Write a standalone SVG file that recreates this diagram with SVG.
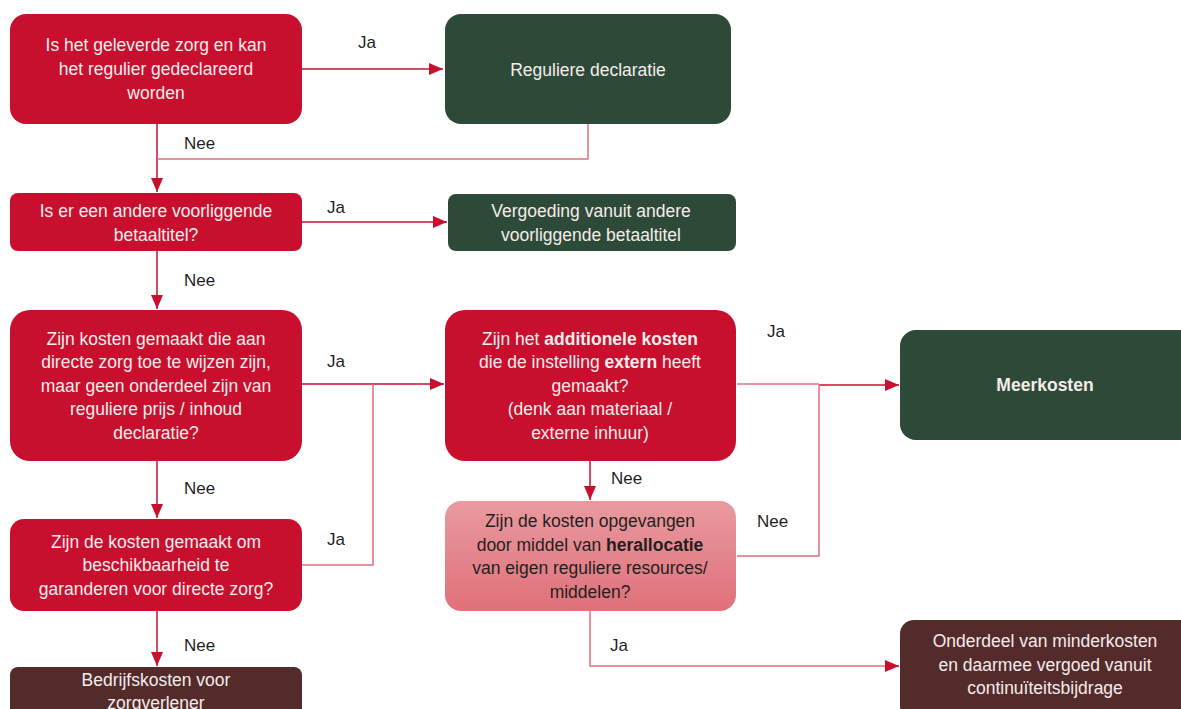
<svg xmlns="http://www.w3.org/2000/svg" width="1181" height="709" viewBox="0 0 1181 709">
<style>
.red{fill:#C8102E}
.green{fill:#2D4A38}
.brown{fill:#532B2B}
.t{font-family:"Liberation Sans",Arial,sans-serif;font-size:17.5px;fill:#F6ECEC;text-anchor:middle}
.dk{fill:#1F1F1F}
.lbl{font-family:"Liberation Sans",Arial,sans-serif;font-size:17px;fill:#1F1F1F}
.c{fill:none;stroke:#C8102E;stroke-width:1.5}
.cl{fill:none;stroke:#E0707E;stroke-width:1.5}
.b{font-weight:bold}
</style>
<defs>
<marker id="ahL" viewBox="0 0 14 12" refX="14" refY="6" markerWidth="14" markerHeight="12" markerUnits="userSpaceOnUse" orient="auto">
<path d="M0,0 L14,6 L0,12 z" fill="#C8102E"/>
</marker>
<linearGradient id="pink" x1="0" y1="0" x2="0" y2="1">
<stop offset="0" stop-color="#E99AA0"/>
<stop offset="1" stop-color="#E07079"/>
</linearGradient>
</defs>

<g id="connectors">
<path class="c" d="M302,69 H443" marker-end="url(#ahL)"/>
<path class="c" d="M157,124 V192" marker-end="url(#ahL)"/>
<path class="cl" d="M588,124 V159 H157"/>
<path class="c" d="M302,222 H447" marker-end="url(#ahL)"/>
<path class="c" d="M157,251 V309" marker-end="url(#ahL)"/>
<path class="c" d="M302,384 H444" marker-end="url(#ahL)"/>
<path class="cl" d="M302,565 H373 V384"/>
<path class="c" d="M157,461 V518" marker-end="url(#ahL)"/>
<path class="c" d="M157,611 V666" marker-end="url(#ahL)"/>
<path class="cl" d="M737,384 H819"/>
<path class="c" d="M819,385 H899" marker-end="url(#ahL)"/>
<path class="cl" d="M737,556 H819 V385"/>
<path class="c" d="M590,461 V500" marker-end="url(#ahL)"/>
<path class="cl" d="M590,611 V666 H885"/>
<path class="c" d="M885,666 H899" marker-end="url(#ahL)"/>
</g>

<g id="labels">
<text class="lbl" x="358" y="48">Ja</text>
<text class="lbl" x="184" y="149">Nee</text>
<text class="lbl" x="327" y="213">Ja</text>
<text class="lbl" x="184" y="286">Nee</text>
<text class="lbl" x="327" y="367">Ja</text>
<text class="lbl" x="184" y="494">Nee</text>
<text class="lbl" x="327" y="545">Ja</text>
<text class="lbl" x="184" y="651">Nee</text>
<text class="lbl" x="767" y="337">Ja</text>
<text class="lbl" x="611" y="484">Nee</text>
<text class="lbl" x="757" y="527">Nee</text>
<text class="lbl" x="610" y="651">Ja</text>
</g>

<g id="n1">
<rect class="red" x="10" y="14" width="292" height="110" rx="16"/>
<text class="t" x="156" y="51">Is het geleverde zorg en kan</text>
<text class="t" x="156" y="75">het regulier gedeclareerd</text>
<text class="t" x="156" y="99">worden</text>
</g>
<g id="n2">
<rect class="green" x="445" y="14" width="286" height="110" rx="16"/>
<text class="t" x="588" y="76">Reguliere declaratie</text>
</g>
<g id="n3">
<rect class="red" x="10" y="193" width="292" height="58" rx="8"/>
<text class="t" x="156" y="217">Is er een andere voorliggende</text>
<text class="t" x="156" y="241">betaaltitel?</text>
</g>
<g id="n4">
<rect class="green" x="448" y="194" width="288" height="57" rx="8"/>
<text class="t" x="591" y="217">Vergoeding vanuit andere</text>
<text class="t" x="591" y="241">voorliggende betaaltitel</text>
</g>
<g id="n5">
<rect class="red" x="10" y="310" width="292" height="151" rx="20"/>
<text class="t" x="156" y="345">Zijn kosten gemaakt die aan</text>
<text class="t" x="156" y="368">directe zorg toe te wijzen zijn,</text>
<text class="t" x="156" y="392">maar geen onderdeel zijn van</text>
<text class="t" x="156" y="415">reguliere prijs / inhoud</text>
<text class="t" x="156" y="439">declaratie?</text>
</g>
<g id="n6">
<rect class="red" x="445" y="310" width="291" height="151" rx="20"/>
<text class="t" x="590" y="345">Zijn het <tspan class="b">additionele kosten</tspan></text>
<text class="t" x="590" y="368">die de instelling <tspan class="b">extern</tspan> heeft</text>
<text class="t" x="590" y="392">gemaakt?</text>
<text class="t" x="590" y="415">(denk aan materiaal /</text>
<text class="t" x="590" y="439">externe inhuur)</text>
</g>
<g id="n7">
<rect class="green" x="900" y="330" width="300" height="110" rx="16"/>
<text class="t b" x="1045" y="391">Meerkosten</text>
</g>
<g id="n8">
<rect class="red" x="10" y="519" width="292" height="92" rx="14"/>
<text class="t" x="156" y="548">Zijn de kosten gemaakt om</text>
<text class="t" x="156" y="571">beschikbaarheid te</text>
<text class="t" x="156" y="595">garanderen voor directe zorg?</text>
</g>
<g id="n9">
<rect fill="url(#pink)" x="445" y="501" width="291" height="110" rx="16"/>
<text class="t dk" x="590" y="527">Zijn de kosten opgevangen</text>
<text class="t dk" x="590" y="551">door middel van <tspan class="b">herallocatie</tspan></text>
<text class="t dk" x="590" y="574">van eigen reguliere resources/</text>
<text class="t dk" x="590" y="598">middelen?</text>
</g>
<g id="n10">
<rect class="brown" x="10" y="667" width="292" height="60" rx="8"/>
<text class="t" x="156" y="686">Bedrijfskosten voor</text>
<text class="t" x="156" y="709">zorgverlener</text>
</g>
<g id="n11">
<rect class="brown" x="900" y="620" width="300" height="100" rx="14"/>
<text class="t" x="1045" y="647">Onderdeel van minderkosten</text>
<text class="t" x="1045" y="671">en daarmee vergoed vanuit</text>
<text class="t" x="1045" y="694">continuïteitsbijdrage</text>
</g>
</svg>
